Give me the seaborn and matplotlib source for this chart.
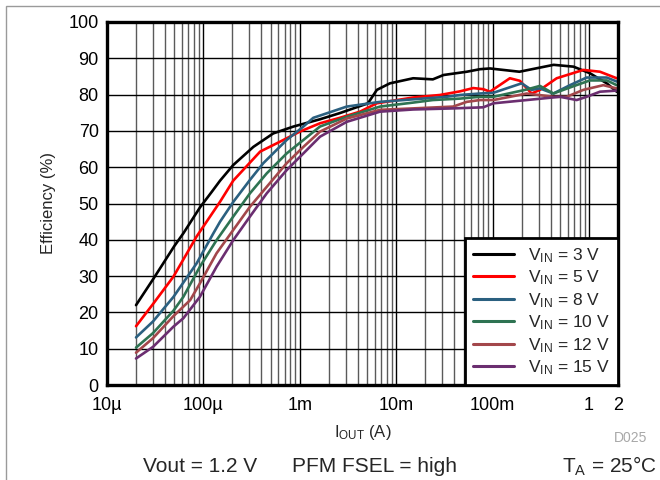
import numpy as np
import pandas as pd
import matplotlib
matplotlib.use("Agg")
import matplotlib.pyplot as plt
from matplotlib.ticker import FixedLocator, LogLocator, NullFormatter
from matplotlib.patches import Rectangle
from matplotlib.lines import Line2D
import seaborn as sns

sns.set_style("white")
plt.rcParams["font.family"] = ["Liberation Sans", "DejaVu Sans"]
plt.rcParams["mathtext.fontset"] = "custom"
plt.rcParams["mathtext.rm"] = "Liberation Sans"
plt.rcParams["mathtext.it"] = "Liberation Sans"

# Efficiency vs output current, one series per input voltage
i_3v = [20e-6, 30e-6, 50e-6, 62e-6, 92e-6, 122e-6, 149e-6, 204e-6, 330e-6, 530e-6,
        860e-6, 1.62e-3, 2.6e-3, 5.1e-3, 6.3e-3, 8.6e-3, 15e-3, 24e-3, 31e-3, 54e-3,
        74e-3, 94e-3, 0.19, 0.43, 0.69, 1.02, 1.53, 1.94]
eff_3v = [22.0, 29.1, 38.3, 41.8, 48.9, 53.2, 56.3, 60.6, 65.6, 69.3,
          71.2, 73.2, 74.9, 77.6, 81.3, 83.1, 84.5, 84.2, 85.4, 86.3,
          87.0, 87.2, 86.3, 88.2, 87.7, 85.9, 83.1, 80.8]

i_5v = [20e-6, 30e-6, 49e-6, 85e-6, 149e-6, 204e-6, 388e-6, 620e-6, 1.0e-3, 1.62e-3,
        2.6e-3, 4.21e-3, 6.28e-3, 15e-3, 28.5e-3, 46e-3, 63e-3, 80e-3, 94e-3,
        0.151, 0.192, 0.254, 0.31, 0.462, 0.873, 1.3, 1.94]
eff_5v = [16.2, 22.3, 29.9, 40.9, 50.5, 56.3, 64.3, 67.0, 69.8, 72.1,
          73.6, 75.3, 77.6, 79.2, 79.9, 80.9, 81.8, 81.5, 80.8,
          84.5, 83.8, 80.3, 81.3, 84.5, 86.8, 86.3, 84.5]

i_8v = [20e-6, 30e-6, 49e-6, 85e-6, 127e-6, 149e-6, 205e-6, 304e-6, 418e-6, 731e-6,
        1.09e-3, 1.38e-3, 3.07e-3, 6.8e-3, 15e-3, 33.4e-3, 46e-3, 74e-3, 0.102, 0.2,
        0.254, 0.31, 0.427, 0.635, 0.946, 1.53, 1.94]
eff_8v = [13.1, 17.5, 24.3, 33.5, 41.8, 45.0, 50.5, 56.5, 61.1, 67.5,
          71.2, 73.6, 76.7, 78.0, 78.7, 79.4, 79.9, 80.3, 80.5, 83.1,
          81.3, 81.7, 80.3, 82.6, 84.7, 84.7, 83.6]

i_10v = [20e-6, 30e-6, 49e-6, 62e-6, 92e-6, 137e-6, 204e-6, 304e-6, 454e-6, 731e-6,
         1.09e-3, 1.62e-3, 3.07e-3, 6.8e-3, 15e-3, 24e-3, 46e-3, 74e-3, 0.102, 0.226,
         0.31, 0.427, 0.688, 1.02, 1.53, 1.94]
eff_10v = [10.3, 14.3, 20.5, 24.3, 32.6, 39.9, 46.4, 52.8, 58.3, 63.8,
           67.5, 71.2, 73.9, 76.7, 77.8, 78.5, 78.9, 79.4, 79.4, 81.4,
           82.4, 80.3, 82.3, 83.9, 83.9, 82.6]

i_12v = [20e-6, 30e-6, 49e-6, 73e-6, 92e-6, 137e-6, 204e-6, 304e-6, 454e-6, 731e-6,
         1.09e-3, 1.62e-3, 3.07e-3, 6.8e-3, 15e-3, 39e-3, 54e-3, 74e-3, 0.102, 0.226,
         0.427, 0.587, 0.873, 1.41, 1.94]
eff_12v = [8.9, 12.9, 19.0, 23.4, 28.0, 36.3, 42.7, 49.1, 54.6, 61.1,
           65.6, 69.8, 73.4, 75.8, 76.2, 76.7, 78.0, 78.5, 78.5, 80.3,
           79.4, 79.4, 81.3, 82.6, 81.7]

i_15v = [20e-6, 30e-6, 49e-6, 62e-6, 92e-6, 137e-6, 204e-6, 304e-6, 454e-6, 731e-6,
         1.09e-3, 1.62e-3, 3.07e-3, 6.8e-3, 15e-3, 39e-3, 80e-3, 0.102, 0.226, 0.5,
         0.745, 0.946, 1.3, 1.94]
eff_15v = [7.3, 10.5, 16.1, 18.4, 24.3, 32.6, 39.9, 46.4, 52.8, 59.2,
           63.8, 68.4, 72.5, 75.3, 75.9, 76.2, 76.5, 77.6, 78.5, 79.4,
           78.5, 79.4, 80.8, 81.1]

series_labels = [r"V$_{\mathregular{IN}}$ = 3 V", r"V$_{\mathregular{IN}}$ = 5 V",
                 r"V$_{\mathregular{IN}}$ = 8 V", r"V$_{\mathregular{IN}}$ = 10 V",
                 r"V$_{\mathregular{IN}}$ = 12 V", r"V$_{\mathregular{IN}}$ = 15 V"]
series_colors = ["#000000", "#ff0000", "#2b6080", "#2e7352", "#a3474b", "#6b2e70"]

x_tick_values = [1e-5, 1e-4, 1e-3, 1e-2, 1e-1, 1, 2]
x_tick_labels = ["10µ", "100µ", "1m", "10m", "100m", "1", "2"]
y_tick_values = list(range(0, 101, 10))

currents = [i_3v, i_5v, i_8v, i_10v, i_12v, i_15v]
effs = [eff_3v, eff_5v, eff_8v, eff_10v, eff_12v, eff_15v]
frames = []
for lab, xs, ys in zip(series_labels, currents, effs):
    frames.append(pd.DataFrame({"iout": xs, "eff": ys, "vin": lab}))
df = pd.concat(frames, ignore_index=True)

fig = plt.figure(figsize=(6.6, 4.8), dpi=100)
ax = fig.add_axes([107 / 660, 95 / 480, 511 / 660, 363 / 480])

ax.set_xscale("log")
ax.set_xlim(1e-5, 2)
ax.set_ylim(0, 100)

# grid: black at decades and every 10 %, grey at intermediate decades
ax.xaxis.set_minor_locator(LogLocator(base=10, subs=np.arange(2, 10)))
ax.xaxis.set_minor_formatter(NullFormatter())
ax.xaxis.set_major_locator(FixedLocator(x_tick_values))
ax.set_xticklabels(x_tick_labels)
ax.set_yticks(y_tick_values)
ax.grid(True, which="major", axis="both", color="#000000", lw=1.0)
ax.grid(True, which="minor", axis="x", color="#5a5a5a", lw=1.0)
ax.set_axisbelow(True)

sns.lineplot(data=df, x="iout", y="eff", hue="vin",
             palette=dict(zip(series_labels, series_colors)),
             hue_order=series_labels, lw=1.9, ax=ax, legend=False)

for s in ax.spines.values():
    s.set_color("black")
    s.set_linewidth(2.4)
ax.tick_params(axis="both", which="both", length=0, labelsize=13, colors="black")
ax.tick_params(axis="x", pad=9)
ax.tick_params(axis="y", pad=6)

ax.set_xlabel(r"I$_{\mathregular{OUT}}$ (A)", fontsize=12, labelpad=6)
ax.set_ylabel("Efficiency (%)", fontsize=12, labelpad=9)

handles = [Line2D([], [], color=c, lw=2.2) for c in series_colors]
leg = ax.legend(handles, series_labels, loc="lower right", fontsize=12.5,
                frameon=True, fancybox=False, borderaxespad=0, framealpha=1,
                edgecolor="black", handlelength=2.4, handletextpad=0.8,
                labelspacing=0.22, borderpad=0.45)
leg.get_frame().set_linewidth(2.0)

fig.text(631 / 660, 1 - 438 / 480, "D025", fontsize=10, color="#a8a8a8",
         ha="center", va="center")
fig.text(200 / 660, 1 - 466 / 480, "Vout = 1.2 V", fontsize=15,
         ha="center", va="center")
fig.text(374 / 660, 1 - 466 / 480, "PFM FSEL = high", fontsize=15,
         ha="center", va="center")
fig.text(657 / 660, 1 - 466 / 480, r"T$_{\mathregular{A}}$ = 25°C", fontsize=15,
         ha="right", va="center")

# thin frame around the figure
fig.patches.append(Rectangle((6 / 660, -0.1), 1.2, 1 - 6 / 480 + 0.1,
                             transform=fig.transFigure, fill=False,
                             edgecolor="#9a9a9a", lw=1.0))

fig.savefig("out.png", dpi=100)
